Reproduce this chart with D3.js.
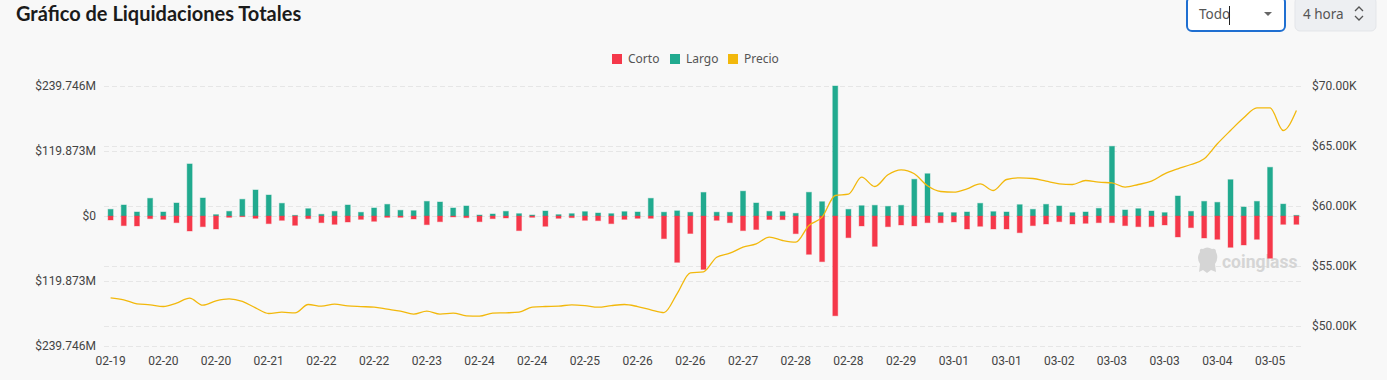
<!DOCTYPE html>
<html>
<head>
<meta charset="utf-8">
<script src="https://cdn.jsdelivr.net/npm/d3@7"></script>
<style>
  body { margin: 0; background: #f8f8f8; }
  svg { display: block; font-family: Roboto, sans-serif; }
</style>
</head>
<body>
<svg id="chart" width="1387" height="380"></svg>
<script>
// 4h buckets, 02-19 12:00 -> 03-05 12:00
var categories = [
  "02-19 12:00","02-19 16:00","02-19 20:00",
  "02-20 00:00","02-20 04:00","02-20 08:00","02-20 12:00","02-20 16:00","02-20 20:00",
  "02-21 00:00","02-21 04:00","02-21 08:00","02-21 12:00","02-21 16:00","02-21 20:00",
  "02-22 00:00","02-22 04:00","02-22 08:00","02-22 12:00","02-22 16:00","02-22 20:00",
  "02-23 00:00","02-23 04:00","02-23 08:00","02-23 12:00","02-23 16:00","02-23 20:00",
  "02-24 00:00","02-24 04:00","02-24 08:00","02-24 12:00","02-24 16:00","02-24 20:00",
  "02-25 00:00","02-25 04:00","02-25 08:00","02-25 12:00","02-25 16:00","02-25 20:00",
  "02-26 00:00","02-26 04:00","02-26 08:00","02-26 12:00","02-26 16:00","02-26 20:00",
  "02-27 00:00","02-27 04:00","02-27 08:00","02-27 12:00","02-27 16:00","02-27 20:00",
  "02-28 00:00","02-28 04:00","02-28 08:00","02-28 12:00","02-28 16:00","02-28 20:00",
  "02-29 00:00","02-29 04:00","02-29 08:00","02-29 12:00","02-29 16:00","02-29 20:00",
  "03-01 00:00","03-01 04:00","03-01 08:00","03-01 12:00","03-01 16:00","03-01 20:00",
  "03-02 00:00","03-02 04:00","03-02 08:00","03-02 12:00","03-02 16:00","03-02 20:00",
  "03-03 00:00","03-03 04:00","03-03 08:00","03-03 12:00","03-03 16:00","03-03 20:00",
  "03-04 00:00","03-04 04:00","03-04 08:00","03-04 12:00","03-04 16:00","03-04 20:00",
  "03-05 00:00","03-05 04:00","03-05 08:00","03-05 12:00"
];

var tickLabels = ["02-19","02-20","02-20","02-21","02-22","02-22","02-23","02-24","02-24",
  "02-25","02-26","02-26","02-27","02-28","02-28","02-29","03-01","03-01","03-02",
  "03-03","03-03","03-04","03-05"];

// liquidations in $M
var longs = [12.3,20.3,7.4,32.6,7.4,24,96,33.2,2.5,8.6,
  30.8,48,38.7,23.4,1.2,13.5,3.1,8.6,20.3,6.8,
  14.8,21.5,10.5,9.8,27,25.8,14.8,18.5,1.8,3.7,
  8.6,4.3,1.8,9.2,2.5,4.3,8,5.5,4.3,8,
  7.4,32.6,7,9.5,6.8,43.5,7,6.8,45.8,24,
  8.6,8,4.9,43.7,26.4,239.746,12.3,19,19.7,17.8,
  19.7,67.7,78,6.2,6.2,7.4,23.4,8,7.4,20.9,
  12.3,21.5,18.5,6.2,7.4,14.1,128.5,11.1,13.5,9.2,
  6.2,36.9,8.6,27,25.2,67,16.6,27,89.8,22,
  1.2];

var shorts = [7.4,17.8,18.4,4.9,6.2,12.3,27.7,19.7,24,2.5,
  1.2,4.3,14.1,8,17.2,4.9,12.3,15.4,11.1,6.2,
  9.8,2.5,2.5,5.5,16,10.5,1.8,3.1,10.5,4.9,
  3.7,27,2.5,19,4.3,3.1,8,8.6,14.1,6.2,
  4.3,4.3,41.8,85.5,32.3,98.5,8,12.3,27,24.9,
  6.5,6.8,32.6,70.7,84.2,184,40,18.4,56,19.7,
  16.6,18.4,12.3,12.3,11.1,24,19,24,24,30.8,
  17.8,14.8,10.5,14.8,13.5,12.3,12.3,17.8,19.7,19.7,
  16.6,38.7,21.5,40.6,43,57.8,53.5,43,78,15.4,
  15.4];

var prices = [52347,52181,51850,51764,51625,51903,52320,51740,52100,52264,
  52050,51514,51040,51153,51090,51792,51650,51820,51680,51620,
  51569,51403,51236,50990,51236,50990,51069,50850,50820,51069,
  51097,51150,51569,51625,51653,51764,51700,51569,51700,51792,
  51620,51350,51120,52700,54430,54517,55733,56067,56567,56850,
  57400,57125,56983,58375,59067,60875,60983,62400,61625,62600,
  63017,62683,61683,61208,61150,61433,61850,61292,62208,62350,
  62292,62067,61850,61792,62125,61983,61933,61567,61792,62067,
  62683,63100,63458,63933,65183,66292,67350,68183,68183,66292,
  67958];

var leftTicks = [-239.746, -119.873, 0, 119.873, 239.746];
var priceTicks = [50000, 55000, 60000, 65000, 70000];

var colShort = "#f5384a", colLong = "#21aa8f", colPrice = "#f2b80c";

var svg = d3.select("#chart"),
    plot = {left: 104, right: 1303, top: 86, bottom: 346};

var x = d3.scaleBand()
    .domain(categories)
    .range([plot.left, plot.right]);

var y = d3.scaleLinear()
    .domain([-239.746, 239.746])
    .range([plot.bottom, plot.top]);

var yPrice = d3.scaleLinear()
    .domain([50000, 70000])
    .range([326, 86]);

// title
svg.append("text")
    .attr("x", 16).attr("y", 21)
    .attr("font-family", "Lato, sans-serif")
    .attr("font-weight", 700)
    .attr("font-size", 20)
    .attr("fill", "#1b1b1b")
    .text("Gráfico de Liquidaciones Totales");

// controls top right
svg.append("rect")
    .attr("x", 1187).attr("y", -3).attr("width", 98).attr("height", 34).attr("rx", 5)
    .attr("fill", "#fff").attr("stroke", "#1f6fd1").attr("stroke-width", 2);
svg.append("text").attr("x", 1199).attr("y", 19)
    .attr("font-family", "Noto Sans, sans-serif").attr("font-size", 13.5).attr("fill", "#555")
    .text("Todo");
svg.append("line").attr("x1", 1229.5).attr("x2", 1229.5).attr("y1", 6).attr("y2", 25)
    .attr("stroke", "#222").attr("stroke-width", 1);
svg.append("path").attr("d", "M1264,12L1272,12L1268,16Z").attr("fill", "#666");

svg.append("rect")
    .attr("x", 1295).attr("y", -3).attr("width", 81).attr("height", 34).attr("rx", 5)
    .attr("fill", "#edeff2").attr("stroke", "#e3e5e9");
svg.append("text").attr("x", 1303).attr("y", 19)
    .attr("font-family", "Noto Sans, sans-serif").attr("font-size", 13.5).attr("fill", "#555")
    .text("4 hora");
svg.append("path").attr("d", "M1355,11L1359,7L1363,11M1355,16L1359,20L1363,16")
    .attr("fill", "none").attr("stroke", "#555").attr("stroke-width", 1.3);

// legend
var legend = [["Corto", colShort, 612], ["Largo", colLong, 670], ["Precio", colPrice, 728]];
legend.forEach(function(l) {
  svg.append("rect").attr("x", l[2]).attr("y", 54).attr("width", 10).attr("height", 10).attr("fill", l[1]);
  svg.append("text").attr("x", l[2] + 16).attr("y", 63)
      .attr("font-family", "Noto Sans, sans-serif").attr("font-size", 12).attr("fill", "#555")
      .text(l[0]);
});

// grid
var grid = svg.append("g").attr("stroke", "#e6e6e6").attr("stroke-dasharray", "5,3");
leftTicks.forEach(function(v) {
  grid.append("line").attr("x1", plot.left).attr("x2", plot.right)
      .attr("y1", Math.round(y(v)) + 0.5).attr("y2", Math.round(y(v)) + 0.5);
});
priceTicks.forEach(function(v) {
  grid.append("line").attr("x1", plot.left).attr("x2", plot.right)
      .attr("y1", Math.round(yPrice(v)) + 0.5).attr("y2", Math.round(yPrice(v)) + 0.5);
});

// watermark
var wm = svg.append("g").attr("fill", "#d5d5d5");
wm.append("path")
    .attr("d", "M1200,252 Q1199,248 1203,249 Q1207,246 1212,249 Q1216,248 1216,252 Q1219,258 1215,264 L1216,272 L1211,270 L1207,273 L1203,270 L1199,272 L1200,264 Q1196,258 1200,252Z");
wm.append("text").attr("x", 1222).attr("y", 268)
    .attr("font-family", "Roboto, sans-serif").attr("font-weight", 700).attr("font-size", 17.5)
    .text("coinglass");

var bw = x.bandwidth(), barW = 5;

// long bars up
svg.append("g").selectAll("rect")
  .data(longs)
  .enter().append("rect")
    .attr("x", function(d, i) { return x(categories[i]) + bw / 2 - barW / 2; })
    .attr("y", function(d) { return y(d); })
    .attr("width", barW)
    .attr("height", function(d) { return y(0) - y(d); })
    .attr("fill", colLong)
    .attr("stroke", "rgba(33,170,143,0.4)")
    .attr("stroke-width", 1);

// short bars down
svg.append("g").selectAll("rect")
  .data(shorts)
  .enter().append("rect")
    .attr("x", function(d, i) { return x(categories[i]) + bw / 2 - barW / 2; })
    .attr("y", y(0))
    .attr("width", barW)
    .attr("height", function(d) { return y(-d) - y(0); })
    .attr("fill", colShort)
    .attr("stroke", "rgba(245,56,74,0.35)")
    .attr("stroke-width", 1);

// price line
var line = d3.line()
    .x(function(d, i) { return x(categories[i]) + bw / 2; })
    .y(function(d) { return yPrice(d); })
    .curve(d3.curveMonotoneX);

svg.append("path")
    .datum(prices)
    .attr("fill", "none")
    .attr("stroke", colPrice)
    .attr("stroke-width", 1.3)
    .attr("d", line);

// axes
var yAxis = svg.append("g")
    .attr("transform", "translate(" + (plot.left - 1) + ",0)")
    .call(d3.axisLeft(y).tickValues(leftTicks).tickSize(0).tickPadding(7)
      .tickFormat(function(v) { return v === 0 ? "$0" : "$" + Math.abs(v).toFixed(3) + "M"; }));

var pAxis = svg.append("g")
    .attr("transform", "translate(" + plot.right + ",0)")
    .call(d3.axisRight(yPrice).tickValues(priceTicks).tickSize(0).tickPadding(9)
      .tickFormat(function(v) { return "$" + (v / 1000).toFixed(2) + "K"; }));

var xAxis = svg.append("g")
    .attr("transform", "translate(0," + plot.bottom + ")")
    .call(d3.axisBottom(x)
      .tickValues(categories.filter(function(d, i) { return i % 4 === 0; }))
      .tickSize(0).tickPadding(10)
      .tickFormat(function(d, i) { return tickLabels[i]; }));

[yAxis, pAxis, xAxis].forEach(function(a) {
  a.select(".domain").remove();
  a.selectAll("text")
    .attr("font-family", "Roboto, sans-serif")
    .attr("font-size", 12)
    .attr("fill", "#444");
});
</script>
</body>
</html>
